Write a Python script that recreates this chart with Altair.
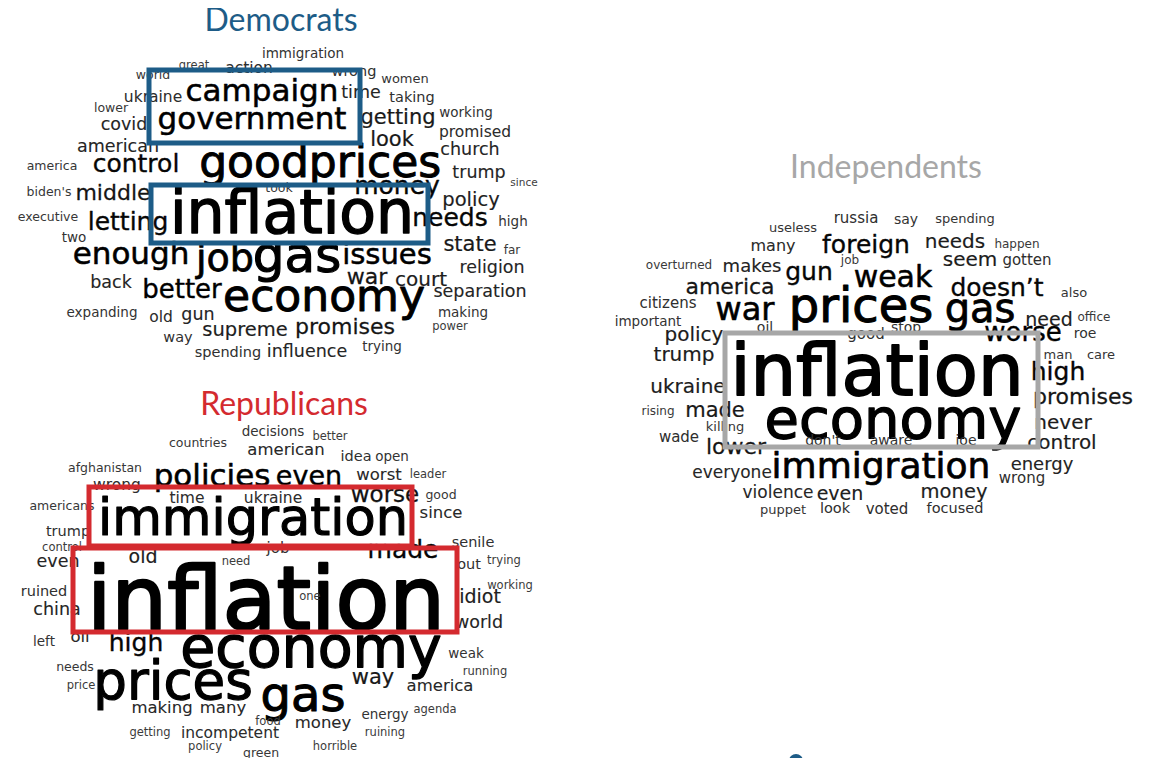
import altair as alt
import pandas as pd

# ---------------- Democrats cloud ----------------
dem_words = ["immigration", "great", "action", "wrong", "world", "women", "campaign", "ukraine", "time", "taking",
             "lower", "government", "getting", "working", "covid", "look", "promised", "american", "church", "america",
             "control", "good", "prices", "trump", "since", "money", "biden's", "middle", "took", "policy",
             "executive", "letting", "inflation", "needs", "high", "two", "state", "far", "enough", "job",
             "gas", "issues", "religion", "war", "court", "back", "better", "economy", "separation", "expanding",
             "old", "gun", "making", "power", "supreme", "promises", "way", "trying", "spending", "influence"]
dem_x = [303, 194, 249, 354, 153, 405, 262, 153, 361, 412,
         111, 252, 398, 466, 124, 392, 475, 118, 470, 52,
         136, 254, 375, 479, 524, 397, 49, 113, 279, 471,
         48, 128, 292, 450, 513, 74, 470, 512, 131, 225,
         297, 387, 492, 367, 421, 111, 182, 324, 480, 102,
         161, 198, 463, 450, 245, 345, 178, 382, 228, 307]
dem_y = [54, 66, 68, 72, 75, 79, 92, 97, 93, 98,
         108, 120, 118, 113, 125, 140, 132, 147, 150, 166,
         164, 164, 164, 173, 183, 186, 192, 193, 188, 200,
         217, 222, 215, 218, 222, 238, 245, 250, 255, 260,
         257, 255, 268, 277, 280, 283, 290, 298, 292, 313,
         317, 315, 313, 327, 330, 327, 338, 347, 353, 352]
dem_size = [13.5, 11.5, 15.5, 14.5, 12.5, 13, 31, 15.5, 17.5, 14.5,
            12.5, 31, 21, 13.5, 17.5, 21, 15.5, 17.5, 17.5, 12.5,
            25, 44, 44, 17.5, 10.5, 25, 12.5, 22, 12.5, 19.5,
            12.5, 25, 60, 25, 13.5, 13.5, 21, 12, 31, 38,
            50, 29, 17.5, 22, 20, 17.5, 26, 44, 17.5, 13.5,
            15.5, 17.5, 13.5, 11.5, 19.5, 22, 14.5, 13.5, 14.5, 17.5]

# ---------------- Republicans cloud ----------------
rep_words = ["decisions", "better", "countries", "american", "idea", "open", "afghanistan", "policies", "even", "worst",
             "leader", "wrong", "worse", "good", "time", "ukraine", "americans", "since", "immigration", "trump",
             "control", "made", "senile", "even", "old", "need", "job", "out", "trying", "working",
             "ruined", "china", "inflation", "one", "idiot", "world", "left", "oil", "high", "economy",
             "weak", "needs", "running", "prices", "gas", "way", "price", "america", "making", "many",
             "agenda", "energy", "food", "money", "getting", "incompetent", "ruining", "policy", "green", "horrible"]
rep_x = [273, 330, 198, 286, 356, 392, 105, 212, 309, 379,
         428, 117, 385, 441, 187, 273, 62, 441, 253, 68,
         62, 403, 473, 58, 143, 236, 278, 469, 504, 510,
         44, 57, 266, 310, 480, 479, 44, 80, 136, 311,
         466, 75, 485, 173, 303, 373, 81, 440, 162, 223,
         435, 385, 268, 323, 150, 230, 385, 205, 261, 335]
rep_y = [432, 437, 443, 450, 457, 457, 468, 477, 477, 475,
         475, 485, 495, 495, 498, 498, 506, 513, 520, 532,
         548, 550, 543, 562, 557, 562, 548, 565, 561, 586,
         592, 610, 603, 597, 597, 623, 642, 637, 643, 650,
         654, 667, 672, 683, 697, 678, 686, 686, 708, 708,
         710, 715, 722, 723, 733, 733, 733, 747, 753, 747]
rep_size = [13.5, 11.5, 12.5, 16.5, 14.5, 13.5, 12.5, 31, 27, 16.5,
            11.5, 15.5, 23, 12.5, 15.5, 15.5, 12.5, 16.5, 51, 14.5,
            11.5, 25, 14.5, 17.5, 19, 11.5, 15, 14.5, 11.5, 11.5,
            14.5, 17.5, 88, 11.5, 19, 17.5, 13.5, 16.5, 25, 57,
            13.5, 12.5, 11.5, 53, 48, 21, 11.5, 16.5, 16.5, 16.5,
            11.5, 13.5, 11.5, 16.5, 11.5, 15.5, 11.5, 11.5, 12.5, 11.5]

# ---------------- Independents cloud ----------------
ind_words = ["russia", "say", "spending", "useless", "many", "foreign", "needs", "happen", "job", "overturned",
             "makes", "gun", "seem", "gotten", "weak", "america", "doesn\u2019t", "also", "citizens", "war",
             "prices", "gas", "need", "office", "important", "policy", "oil", "stop", "worse", "roe",
             "good", "trump", "man", "care", "inflation", "high", "ukraine", "promises", "rising", "made",
             "killing", "never", "economy", "wade", "lower", "don't", "aware", "joe", "control", "immigration",
             "everyone", "energy", "wrong", "violence", "even", "money", "puppet", "look", "voted", "focused"]
ind_x = [856, 906, 965, 793, 773, 866, 955, 1017, 850, 679,
         752, 809, 970, 1027, 893, 730, 997, 1074, 668, 745,
         861, 980, 1049, 1094, 648, 694, 765, 906, 1023, 1085,
         866, 684, 1058, 1101, 877, 1058, 688, 1083, 658, 715,
         725, 1063, 893, 679, 736, 823, 891, 966, 1062, 881,
         732, 1042, 1022, 778, 840, 954, 783, 835, 887, 955]
ind_y = [218, 220, 219, 228, 246, 245, 242, 244, 260, 265,
         267, 272, 260, 260, 278, 287, 288, 293, 303, 310,
         308, 310, 320, 317, 322, 335, 328, 328, 333, 334,
         334, 355, 355, 355, 373, 372, 387, 397, 411, 411,
         427, 423, 421, 437, 447, 441, 441, 441, 443, 467,
         473, 465, 478, 493, 494, 492, 510, 509, 509, 509]
ind_size = [15, 14, 13, 13, 16, 25, 20, 12, 12, 12,
            18, 25, 20, 15, 30, 22, 25, 13, 15, 32,
            48, 40, 19, 12, 13.5, 20, 14, 14, 26, 14,
            15, 20, 13, 13, 72, 25, 20, 22, 12, 21,
            13, 20, 56, 15, 22, 14, 14, 14, 20, 36,
            17, 18, 15, 17, 19, 19.5, 13, 14.5, 15, 14.5]

# ---------------- Titles, highlight boxes, pager dot ----------------
title_text = ["Democrats", "Republicans", "Independents"]
title_x = [281, 284, 886]
title_y = [21, 405, 168]
title_color = ["#1d5c87", "#d42a2f", "#a7a7a7"]

box_group = ["Democrats", "Democrats", "Republicans", "Republicans", "Independents"]
box_x1 = [149, 151, 89, 73, 725]
box_x2 = [360, 428, 412, 457, 1038]
box_y1 = [70, 185, 487, 548, 333]
box_y2 = [143, 243, 546, 632, 447]

dot_x = [796]
dot_y = [761]

words = pd.DataFrame({
    "word": dem_words + rep_words + ind_words,
    "x": dem_x + rep_x + ind_x,
    "y": dem_y + rep_y + ind_y,
    "size": dem_size + rep_size + ind_size,
})
titles = pd.DataFrame({"text": title_text, "x": title_x, "y": title_y})
boxes = pd.DataFrame({"group": box_group, "x": box_x1, "x2": box_x2, "y": box_y1, "y2": box_y2})
dots = pd.DataFrame({"x": dot_x, "y": dot_y})

W, H = 1136, 750
xs = alt.Scale(domain=[8, 8 + W], nice=False, zero=False)
ys = alt.Scale(domain=[8, 8 + H], nice=False, zero=False, reverse=True)
X = lambda f="x": alt.X(f"{f}:Q", scale=xs, axis=None)
Y = lambda f="y": alt.Y(f"{f}:Q", scale=ys, axis=None)

shade = alt.Scale(domain=[11, 26], range=["#3d3d3d", "#000000"], clamp=True)

cloud = alt.Chart(words).mark_text(
    font="DejaVu Sans", align="center", baseline="middle", strokeJoin="round"
).encode(
    x=X(), y=Y(),
    text="word:N",
    size=alt.Size("size:Q", scale=None, legend=None),
    color=alt.Color("size:Q", scale=shade, legend=None),
    stroke=alt.Stroke("size:Q", scale=shade, legend=None),
    strokeWidth=alt.StrokeWidth("size:Q", scale=alt.Scale(domain=[14, 90], range=[0, 2.4], clamp=True), legend=None),
)

heads = alt.Chart(titles).mark_text(
    font="Lato", fontSize=32, align="center", baseline="middle"
).encode(
    x=X(), y=Y(), text="text:N",
    color=alt.Color("text:N", scale=alt.Scale(domain=title_text, range=title_color), legend=None),
)

frames = alt.Chart(boxes).mark_rect(filled=False, strokeWidth=5).encode(
    x=X(), x2="x2:Q", y=Y(), y2="y2:Q",
    stroke=alt.Stroke("group:N", scale=alt.Scale(domain=title_text, range=title_color), legend=None),
)

pager = alt.Chart(dots).mark_circle(size=200, opacity=1, color="#1d5c87").encode(x=X(), y=Y())

chart = alt.layer(cloud, heads, frames, pager).resolve_scale(
    color="independent", stroke="independent"
).properties(
    width=W, height=H, padding=0, autosize=alt.AutoSizeParams(type="none")
).configure_view(stroke=None)

chart.save("out.html", embed_options={"renderer": "svg", "actions": False})
